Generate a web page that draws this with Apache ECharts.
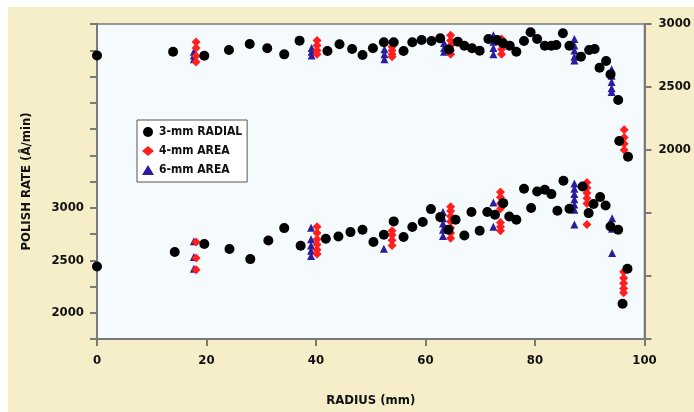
<!DOCTYPE html>
<html>
<head>
<meta charset="utf-8">
<script src="https://cdn.jsdelivr.net/npm/echarts@6/dist/echarts.min.js"></script>
<style>
html,body{margin:0;padding:0;background:#fff;overflow:hidden;}
#chart{width:694px;height:412px;background:#f6edc9;box-shadow:inset 8px 7px 0 #ffffff;}
</style>
</head>
<body>
<div id="chart"></div>
<script>
// ---- data ----
const seriesNames = ['3-mm RADIAL', '4-mm AREA', '6-mm AREA'];
const xTicks = [0, 20, 40, 60, 80, 100];
const leftLabels = [2000, 2500, 3000];
const rightLabels = [2000, 2500, 3000];

// upper band (read on right axis)
const upperRadial = [
 [0,2750],[13.9,2780],[19.6,2748],[24.1,2794],[27.9,2841],[31.1,2807],[34.2,2759],[37.0,2868],
 [42.1,2786],[44.3,2839],[46.6,2802],[48.5,2754],[50.4,2807],[52.4,2855],[54.2,2855],[56.0,2786],
 [57.6,2855],[59.3,2873],[61.1,2865],[62.7,2886],[64.3,2798],[65.9,2860],[67.1,2828],[68.5,2807],
 [69.9,2788],[71.5,2881],[73.1,2873],[74.2,2847],[75.4,2828],[76.6,2780],[78.0,2865],[79.2,2934],
 [80.4,2881],[81.8,2828],[83.0,2828],[83.9,2833],[85.1,2926],[86.3,2828],[88.4,2741],[89.9,2794],
 [90.9,2802],[91.8,2653],[93.0,2706],[93.8,2600],[95.2,2397],[95.4,2071],[97.0,1947]
];
const upperArea4 = [
 [18.1,2857],[18.1,2810],[18.1,2746],[18.1,2698],
 [40.2,2870],[40.2,2830],[40.2,2790],[40.2,2760],
 [53.9,2820],[53.9,2790],[53.9,2760],[53.9,2740],
 [64.6,2910],[64.6,2870],[64.6,2830],[64.6,2790],[64.6,2760],
 [73.9,2880],[73.9,2840],[73.9,2800],[73.9,2760],
 [96.3,2160],[96.3,2100],[96.3,2050],[96.3,2000]
];
const upperArea6 = [
 [17.7,2780],[17.7,2750],[17.7,2720],
 [39.2,2810],[39.2,2780],[39.2,2750],
 [52.5,2800],[52.5,2760],[52.5,2720],
 [63.4,2850],[63.4,2810],[63.4,2780],
 [72.4,2910],[72.4,2860],[72.4,2810],[72.4,2760],
 [87.2,2880],[87.2,2830],[87.2,2790],[87.2,2740],[87.2,2710],
 [94.0,2640],[94.0,2590],[94.0,2540],[94.0,2490],[94.0,2460]
];

// lower band (read on left axis)
const lowerRadial = [
 [0,2441],[14.2,2578],[19.6,2654],[24.2,2607],[28.0,2511],[31.3,2688],[34.2,2806],[37.2,2638],
 [41.8,2705],[44.1,2727],[46.3,2768],[48.5,2790],[50.5,2673],[52.4,2743],[54.2,2870],[56.0,2721],
 [57.6,2816],[59.5,2864],[61.0,2987],[62.7,2911],[64.2,2790],[65.5,2886],[67.1,2736],[68.4,2959],
 [69.9,2781],[71.3,2959],[72.7,2933],[74.2,3044],[75.3,2917],[76.6,2886],[78.0,3181],[79.3,2997],
 [80.4,3155],[81.8,3171],[83.0,3130],[84.1,2971],[85.2,3257],[86.3,2990],[88.7,3203],[89.8,2949],
 [90.7,3035],[91.9,3102],[92.9,3022],[93.8,2822],[95.2,2790],[96.9,2419],[96.0,2086]
];
const lowerArea4 = [
 [18.1,2673],[18.1,2521],[18.1,2410],
 [40.2,2820],[40.2,2760],[40.2,2700],[40.2,2650],[40.2,2600],[40.2,2560],
 [53.9,2780],[53.9,2740],[53.9,2690],[53.9,2640],
 [64.6,3010],[64.6,2970],[64.6,2920],[64.6,2870],[64.6,2810],[64.6,2760],[64.6,2710],
 [73.7,3150],[73.7,3100],[73.7,3040],[73.7,2990],[73.7,2860],[73.7,2820],[73.7,2780],
 [89.5,3240],[89.5,3190],[89.5,3140],[89.5,3090],[89.5,3040],[89.5,2840],
 [96.2,2390],[96.2,2330],[96.2,2280],[96.2,2230],[96.2,2190]
];
const lowerArea6 = [
 [17.7,2680],[17.7,2530],[17.7,2420],
 [39.1,2810],[39.1,2700],[39.1,2640],[39.1,2590],[39.1,2540],
 [52.4,2610],
 [63.2,2960],[63.2,2900],[63.2,2850],[63.2,2790],[63.2,2730],
 [72.4,3050],[72.4,2820],
 [87.2,3230],[87.2,3180],[87.2,3130],[87.2,3080],[87.2,3030],[87.2,2980],[87.2,2840],
 [94.1,2900],[94.1,2800],[94.1,2570]
];

// ---- chart ----
const FONT = "'Liberation Sans Narrow', 'DejaVu Sans Condensed', sans-serif";
const axisColor = '#7a7a7a';
const chart = echarts.init(document.getElementById('chart'), null, {renderer: 'canvas'});

const styles = {
  '3-mm RADIAL': {symbol: 'circle', symbolSize: 10, color: '#000000'},
  '4-mm AREA': {symbol: 'diamond', symbolSize: 9, color: '#ff1f1f'},
  '6-mm AREA': {symbol: 'triangle', symbolSize: 8, color: '#2b1c9c'}
};
function mk(name, data, yIdx, z) {
  const s = styles[name];
  return {
    name: name, type: 'scatter', yAxisIndex: yIdx, data: data, z: z,
    symbol: s.symbol, symbolSize: s.symbolSize,
    itemStyle: {color: s.color, opacity: 1},
    emphasis: {disabled: true}
  };
}

chart.setOption({
  animation: false,
  textStyle: {fontFamily: FONT},
  grid: {left: 97, top: 24, right: 47, bottom: 73, show: true,
         backgroundColor: '#f5fafd', borderColor: axisColor, borderWidth: 1.5},
  legend: {
    data: seriesNames, orient: 'vertical', left: 137, top: 120,
    backgroundColor: '#ffffff', borderColor: '#555555', borderWidth: 1,
    padding: [6, 5, 6, 5], itemGap: 7, itemWidth: 12, itemHeight: 10,
    textStyle: {fontFamily: FONT, fontWeight: 'bold', fontSize: 12, color: '#111'},
    selectedMode: false
  },
  xAxis: {
    type: 'value', min: 0, max: 100, interval: 20,
    name: 'RADIUS (mm)', nameLocation: 'middle', nameGap: 55,
    nameTextStyle: {fontFamily: FONT, fontWeight: 'bold', fontSize: 13, color: '#111'},
    axisLine: {show: true, lineStyle: {color: axisColor, width: 2}},
    axisTick: {show: true, length: 7, lineStyle: {color: axisColor, width: 2}},
    axisLabel: {margin: 15, fontFamily: FONT, fontWeight: 'bold', fontSize: 13, color: '#111',
      formatter: v => xTicks.indexOf(v) >= 0 ? String(v) : ''},
    splitLine: {show: false}
  },
  yAxis: [
    {
      type: 'value', min: 1750, max: 4750, interval: 250, position: 'left',
      name: 'POLISH RATE (Å/min)', nameLocation: 'middle', nameGap: 64, nameRotate: 90,
      nameTextStyle: {fontFamily: FONT, fontWeight: 'bold', fontSize: 13, color: '#111'},
      axisLine: {show: true, lineStyle: {color: axisColor, width: 2}},
      axisTick: {show: true, length: 7, lineStyle: {color: axisColor, width: 2}},
      axisLabel: {margin: 13, fontFamily: FONT, fontWeight: 'bold', fontSize: 13, color: '#111',
        formatter: v => leftLabels.indexOf(v) >= 0 ? String(v) : ''},
      splitLine: {show: false}
    },
    {
      type: 'value', min: 500, max: 3000, interval: 500, position: 'right',
      axisLine: {show: true, lineStyle: {color: axisColor, width: 2}},
      axisTick: {show: true, length: 7, lineStyle: {color: axisColor, width: 2}},
      axisLabel: {margin: 14, fontFamily: FONT, fontWeight: 'bold', fontSize: 13, color: '#111',
        formatter: v => rightLabels.indexOf(v) >= 0 ? String(v) : ''},
      splitLine: {show: false}
    }
  ],
  series: [
    mk('6-mm AREA', upperArea6, 1, 2),
    mk('4-mm AREA', upperArea4, 1, 3),
    mk('3-mm RADIAL', upperRadial, 1, 4),
    mk('6-mm AREA', lowerArea6, 0, 2),
    mk('4-mm AREA', lowerArea4, 0, 3),
    mk('3-mm RADIAL', lowerRadial, 0, 4)
  ]
});
</script>
</body>
</html>
